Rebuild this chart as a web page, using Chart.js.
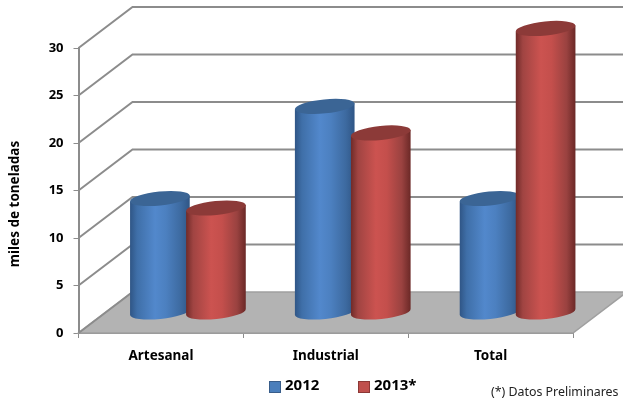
<!DOCTYPE html>
<html>

<head>
    <meta charset="UTF-8">
    <title>Miles de toneladas</title>
    <script src="https://cdn.jsdelivr.net/npm/chart.js@4"></script>
    <style>
        html, body { margin: 0; padding: 0; background: #fff; }
        canvas { display: block; }
    </style>
</head>

<body>
    <canvas id="bar-chart" width="623" height="401"></canvas>

    <script>
        var categories = ['Artesanal', 'Industrial', 'Total'];
        var values2012 = [12, 21.7, 12];
        var values2013 = [11, 18.9, 29.9];
        var yTicks = [0, 5, 10, 15, 20, 25, 30];
        var yTitle = 'miles de toneladas';
        var note = '(*) Datos Preliminares';

        var fontName = '"Noto Sans", sans-serif';
        var gridColor = '#8c8c8c';
        var depthX = 54;
        var depthY = -41;
        var legendX = [269, 358];

        // shade stops for the cylinders, left to right
        var blueShades = ['#2f5585', '#3f6fa8', '#5288cc', '#4c80c0', '#3d6aa0', '#2f5585'];
        var redShades = ['#6f2a28', '#a04442', '#cc5350', '#c44f4c', '#9a4240', '#6a2826'];

        function drawWalls(chart) {
            var ctx = chart.ctx;
            var area = chart.chartArea;
            var y = chart.scales.y;
            var base = y.getPixelForValue(0);

            ctx.save();
            // floor
            ctx.beginPath();
            ctx.moveTo(area.left, base);
            ctx.lineTo(area.right, base);
            ctx.lineTo(area.right + depthX, base + depthY);
            ctx.lineTo(area.left + depthX, base + depthY);
            ctx.closePath();
            ctx.fillStyle = '#b3b3b3';
            ctx.fill();
            ctx.strokeStyle = '#a0a0a0';
            ctx.lineWidth = 1.5;
            ctx.stroke();

            // side wall and back wall grid lines
            ctx.strokeStyle = gridColor;
            ctx.lineWidth = 2;
            yTicks.forEach(function (t) {
                var py = y.getPixelForValue(t);
                ctx.beginPath();
                ctx.moveTo(area.left, py);
                ctx.lineTo(area.left + depthX, py + depthY);
                if (t > 0) ctx.lineTo(area.right + depthX, py + depthY);
                ctx.stroke();
            });
            ctx.restore();
        }

        function drawCylinder(ctx, bar, shades, topColor) {
            var rx = bar.width / 2;
            var ry = 7;
            var tilt = -0.1;
            var cx = bar.x + depthX / 2;
            var top = bar.y + depthY / 2;
            var bottom = bar.base + depthY / 2;
            var dx = rx * Math.cos(tilt);
            var dy = rx * Math.sin(tilt);

            var shade = ctx.createLinearGradient(cx - rx, 0, cx + rx, 0);
            shade.addColorStop(0, shades[0]);
            shade.addColorStop(0.12, shades[1]);
            shade.addColorStop(0.42, shades[2]);
            shade.addColorStop(0.6, shades[3]);
            shade.addColorStop(0.85, shades[4]);
            shade.addColorStop(1, shades[5]);

            ctx.beginPath();
            ctx.moveTo(cx - dx, top - dy);
            ctx.lineTo(cx - dx, bottom - dy);
            ctx.ellipse(cx, bottom, rx, ry, tilt, Math.PI, 0, true);
            ctx.lineTo(cx + dx, top + dy);
            ctx.closePath();
            ctx.fillStyle = shade;
            ctx.fill();

            ctx.beginPath();
            ctx.ellipse(cx, top, rx, ry, tilt, 0, Math.PI * 2);
            ctx.fillStyle = topColor;
            ctx.fill();
        }

        function drawTexts(chart) {
            var ctx = chart.ctx;
            ctx.save();
            ctx.fillStyle = '#000';
            ctx.textBaseline = 'middle';

            // legend sits right of centre, with a wide gap between the items
            ctx.font = 'bold 15px ' + fontName;
            chart.data.datasets.forEach(function (ds, i) {
                ctx.fillStyle = ds.backgroundColor;
                ctx.strokeStyle = ds.borderColor;
                ctx.fillRect(legendX[i], 381, 12, 12);
                ctx.strokeRect(legendX[i] + 0.5, 381.5, 11, 11);
                ctx.fillStyle = '#000';
                ctx.fillText(ds.label, legendX[i] + 16, 386);
            });

            ctx.fillStyle = '#222';
            ctx.font = '12.4px ' + fontName;
            ctx.fillText(note, 491, 392);

            // axis title is not centred on the axis
            ctx.fillStyle = '#000';
            ctx.font = 'bold 13.5px ' + fontName;
            ctx.textAlign = 'center';
            ctx.translate(15, 204);
            ctx.rotate(-Math.PI / 2);
            ctx.fillText(yTitle, 0, 0);
            ctx.restore();
        }

        var cylinders = {
            id: 'cylinders',
            beforeDatasetsDraw: function (chart) {
                var ctx = chart.ctx;
                drawWalls(chart);
                ctx.save();
                chart.data.datasets.forEach(function (ds, i) {
                    chart.getDatasetMeta(i).data.forEach(function (bar) {
                        drawCylinder(ctx, bar, ds.shades, ds.topColor);
                    });
                });
                ctx.restore();
            },
            // the cylinders replace the flat bars
            beforeDatasetDraw: function () {
                return false;
            },
            afterDraw: drawTexts
        };

        var chart = new Chart(document.getElementById('bar-chart'), {
            type: 'bar',
            data: {
                labels: categories,
                datasets: [{
                    label: '2012',
                    data: values2012,
                    backgroundColor: '#4a7ebb',
                    borderColor: '#385d8a',
                    shades: blueShades,
                    topColor: '#3b6595'
                }, {
                    label: '2013*',
                    data: values2013,
                    backgroundColor: '#c0504d',
                    borderColor: '#8c3836',
                    shades: redShades,
                    topColor: '#8c3a38'
                }]
            },
            plugins: [cylinders],
            options: {
                responsive: false,
                animation: false,
                categoryPercentage: 0.68,
                barPercentage: 1.07,
                layout: { padding: { top: 48, right: 50 } },
                plugins: {
                    tooltip: { enabled: false },
                    legend: { display: false }
                },
                scales: {
                    x: {
                        afterFit: function (scale) {
                            scale.height = 68;
                        },
                        grid: { drawOnChartArea: false, color: gridColor, tickLength: 5, offset: true },
                        border: { color: gridColor, width: 2 },
                        ticks: {
                            color: '#000',
                            padding: 10,
                            maxRotation: 0,
                            font: { family: fontName, size: 13.5, weight: 'bold' }
                        }
                    },
                    y: {
                        min: 0,
                        max: 30,
                        afterFit: function (scale) {
                            scale.width = 78.5;
                        },
                        afterBuildTicks: function (scale) {
                            scale.ticks = yTicks.map(function (v) { return { value: v }; });
                        },
                        grid: { drawOnChartArea: false, color: gridColor, tickLength: 5 },
                        border: { color: gridColor, width: 2 },
                        ticks: {
                            color: '#000',
                            padding: 10,
                            font: { family: fontName, size: 13, weight: 'bold' }
                        }
                    }
                }
            }
        });
    </script>
</body>

</html>
